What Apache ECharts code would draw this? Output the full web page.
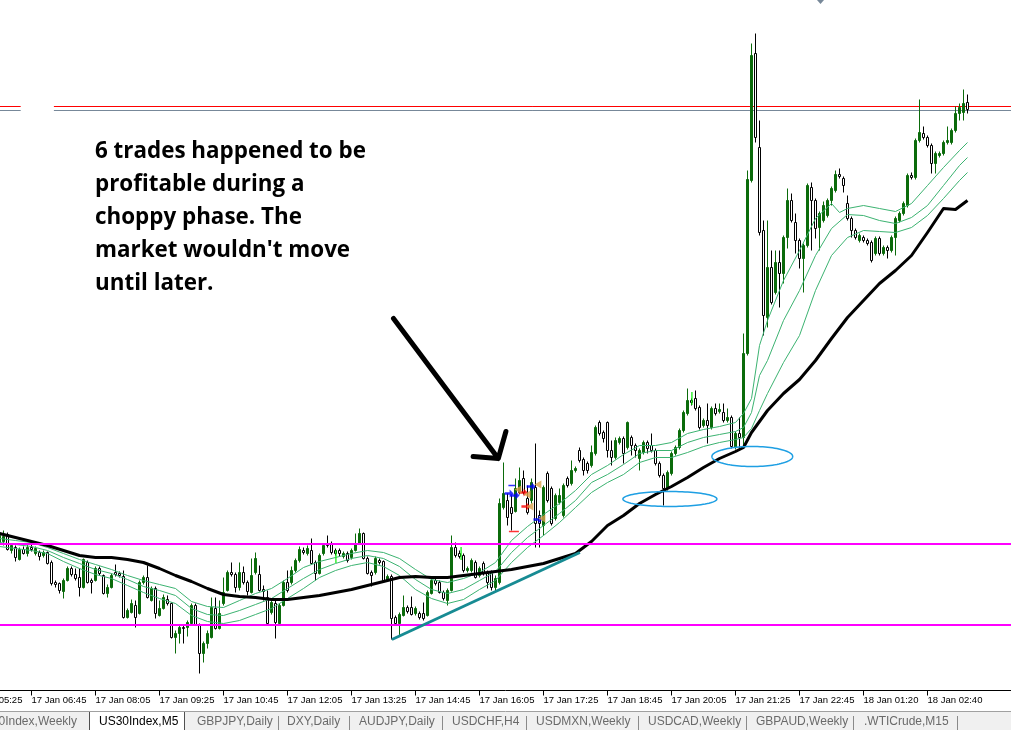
<!DOCTYPE html>
<html><head><meta charset="utf-8">
<script src="https://cdn.jsdelivr.net/npm/echarts@6/dist/echarts.min.js"></script>
<style>html,body{margin:0;padding:0;background:#fff;overflow:hidden}#c{width:1011px;height:730px}</style>
</head><body><div id="c"></div>
<script>
// ---------- DATA ----------
const FIRST_BAR = 8;          // category index of first candle in ohlc
const LAST_LABEL_BAR = 250;   // no time labels in the right-hand shift area
const N_CATS = 262;           // 5-minute slots incl. right-hand shift
// [open, close, low, high]
const ohlc = [
[23847,23855,23845,23857],[23849,23854,23845,23860],[23856,23841,23840,23858],[23840,23845,23837,23847],[23843,23833,23829,23845],[23831,23841,23830,23843],[23841,23837,23836,23844],[23837,23843,23834,23846],[23843,23841,23839,23847],[23837,23842,23835,23844],
[23838,23834,23830,23840],[23835,23838,23833,23840],[23838,23827,23826,23839],[23828,23807,23805,23830],[23808,23806,23803,23810],[23807,23800,23797,23808],[23799,23810,23792,23812],[23810,23822,23809,23824],[23822,23816,23814,23824],[23816,23812,23810,23822],
[23813,23803,23794,23822],[23803,23831,23802,23832],[23828,23808,23807,23830],[23810,23808,23797,23812],[23810,23822,23809,23824],[23822,23817,23815,23824],[23815,23797,23796,23816],[23797,23803,23793,23806],[23803,23815,23802,23817],[23818,23816,23814,23826],
[23817,23815,23813,23819],[23814,23773,23772,23820],[23773,23780,23772,23782],[23778,23787,23777,23791],[23785,23773,23763,23790],[23777,23808,23776,23810],[23808,23813,23806,23815],[23813,23793,23792,23825],[23790,23802,23789,23804],[23802,23777,23772,23804],
[23775,23782,23774,23790],[23782,23793,23781,23796],[23791,23787,23785,23795],[23787,23753,23752,23788],[23753,23757,23737,23760],[23757,23763,23747,23765],[23763,23762,23747,23765],[23763,23768,23754,23770],[23767,23785,23766,23787],[23785,23766,23765,23787],
[23765,23737,23717,23767],[23737,23747,23728,23749],[23747,23757,23742,23760],[23753,23783,23752,23793],[23782,23762,23761,23793],[23762,23777,23761,23790],[23787,23798,23785,23813],[23800,23818,23799,23820],[23818,23816,23814,23828],[23816,23803,23798,23818],
[23803,23818,23800,23828],[23818,23808,23806,23824],[23808,23799,23795,23810],[23798,23815,23797,23832],[23818,23832,23816,23838],[23816,23800,23799,23825],[23801,23799,23790,23805],[23793,23767,23766,23800],[23778,23788,23776,23790],[23787,23768,23752,23790],
[23767,23785,23766,23787],[23785,23808,23784,23810],[23808,23800,23798,23820],[23808,23820,23806,23824],[23820,23830,23818,23832],[23830,23841,23828,23844],[23840,23838,23836,23843],[23837,23842,23835,23845],[23840,23827,23826,23852],[23828,23817,23810,23830],
[23817,23835,23816,23837],[23837,23845,23835,23847],[23847,23845,23843,23855],[23847,23838,23836,23849],[23840,23837,23835,23842],[23840,23837,23834,23842],[23834,23837,23832,23839],[23837,23830,23828,23839],[23833,23840,23831,23842],[23840,23847,23839,23857],
[23847,23857,23846,23862],[23857,23832,23831,23858],[23832,23817,23816,23834],[23818,23815,23804,23820],[23818,23832,23816,23834],[23830,23828,23826,23832],[23829,23810,23809,23830],[23810,23814,23809,23816],[23814,23772,23751,23816],[23773,23767,23765,23775],
[23767,23776,23755,23778],[23775,23783,23774,23795],[23783,23779,23777,23785],[23783,23776,23775,23794],[23777,23782,23775,23784],[23777,23773,23771,23779],[23777,23772,23770,23788],[23775,23798,23774,23800],[23797,23810,23796,23812],[23810,23807,23805,23812],
[23808,23798,23797,23810],[23798,23792,23790,23800],[23790,23800,23785,23802],[23800,23843,23799,23855],[23843,23835,23833,23848],[23837,23834,23832,23840],[23835,23820,23818,23837],[23820,23822,23818,23824],[23820,23830,23818,23832],[23828,23813,23812,23830],
[23815,23822,23813,23824],[23827,23817,23815,23829],[23818,23808,23802,23820],[23818,23803,23800,23820],[23803,23812,23798,23815],[23808,23887,23806,23892],[23883,23897,23881,23928],[23890,23873,23865,23897],[23883,23877,23860,23895],[23879,23902,23878,23912],
[23898,23910,23896,23923],[23912,23898,23896,23920],[23892,23878,23876,23905],[23890,23908,23887,23912],[23903,23867,23843,23947],[23875,23867,23843,23880],[23865,23903,23855,23905],[23917,23890,23888,23919],[23902,23867,23865,23904],[23872,23895,23870,23897],
[23888,23895,23886,23902],[23875,23905,23873,23907],[23912,23905,23903,23914],[23907,23920,23905,23930],[23920,23922,23918,23924],[23940,23930,23928,23943],[23931,23920,23915,23933],[23927,23920,23917,23929],[23925,23938,23923,23945],[23937,23963,23935,23965],
[23968,23957,23955,23970],[23958,23952,23948,23960],[23968,23940,23933,23969],[23940,23933,23925,23950],[23933,23950,23931,23953],[23948,23952,23946,23954],[23952,23937,23927,23954],[23943,23968,23941,23969],[23953,23945,23935,23955],[23945,23940,23933,23947],
[23932,23940,23920,23942],[23938,23948,23936,23950],[23948,23942,23937,23950],[23945,23940,23938,23957],[23940,23927,23925,23942],[23927,23915,23913,23929],[23915,23902,23885,23917],[23902,23918,23900,23920],[23917,23937,23915,23939],[23937,23943,23935,23945],
[23943,23960,23941,23962],[23960,23978,23958,23980],[23977,23990,23975,24002],[23990,23988,23985,23992],[23992,23982,23980,24000],[23983,23963,23961,23985],[23965,23970,23963,23972],[23970,23965,23947,23987],[23963,23982,23961,23984],[23982,23977,23975,23987],
[23979,23981,23977,23987],[23978,23970,23968,23987],[23970,23973,23968,23982],[23973,23944,23942,23975],[23943,23957,23941,23959],[23957,23953,23942,23973],[23953,24037,23945,24057],[24037,24211,24035,24220],[24210,24335,24208,24347],[24337,24253,24248,24357],
[24243,24158,24155,24270],[24160,24075,24055,24170],[24073,24123,24063,24170],[24123,24088,24086,24140],[24098,24128,24096,24140],[24128,24117,24083,24140],[24117,24153,24107,24155],[24153,24190,24142,24202],[24190,24170,24168,24197],[24168,24150,24137,24177],
[24150,24132,24122,24152],[24132,24145,24098,24147],[24145,24205,24143,24207],[24203,24190,24140,24208],[24190,24162,24152,24192],[24163,24177,24140,24179],[24170,24185,24168,24189],[24175,24190,24173,24192],[24190,24202,24185,24204],[24200,24216,24198,24220],
[24216,24214,24212,24222],[24212,24205,24198,24214],[24187,24172,24170,24195],[24172,24160,24153,24174],[24160,24153,24151,24162],[24150,24155,24148,24157],[24153,24150,24148,24155],[24150,24147,24145,24152],[24148,24130,24128,24150],[24137,24152,24135,24154],
[24152,24137,24135,24154],[24137,24143,24135,24145],[24143,24140,24132,24145],[24140,24153,24138,24155],[24153,24172,24135,24174],[24170,24177,24168,24179],[24177,24187,24175,24189],[24185,24215,24183,24217],[24215,24213,24211,24218],[24213,24250,24211,24252],
[24250,24258,24248,24291],[24257,24253,24251,24264],[24253,24245,24243,24255],[24245,24227,24217,24247],[24227,24237,24217,24239],[24235,24237,24233,24239],[24237,24248,24235,24250],[24248,24250,24246,24264],[24248,24260,24246,24262],[24260,24277,24258,24284],
[24277,24283,24270,24287],[24278,24287,24270,24301],[24288,24281,24277,24296]
];

// moving averages: [category index, price]
const maSlow = [[8,23857],[12,23853],[16,23849],[20,23845],[24,23840],[28,23835],[32,23833],[36,23833],[40,23831],[44,23828],[48,23822],[52,23815],[56,23809],[60,23802],[64,23796],[68,23794],[72,23793],[76,23791],[80,23791],[84,23793],[88,23795],[92,23798],[96,23801],[100,23805],[104,23809],[108,23813],[112,23814],[116,23813],[120,23813],[124,23815],[128,23817],[132,23819],[136,23821],[140,23824],[144,23827],[148,23832],[152,23837],[156,23849],[160,23865],[164,23875],[168,23887],[172,23896],[176,23904],[180,23913],[184,23923],[188,23932],[192,23939],[194,23943],[196,23958],[200,23980],[204,23997],[208,24011],[212,24030],[216,24052],[220,24073],[224,24090],[228,24107],[232,24120],[236,24135],[240,24158],[244,24182],[247,24181],[250,24190]];
const maUpper = [[8,23852],[12,23850],[16,23848],[20,23843],[24,23837],[28,23831],[32,23826],[36,23821],[40,23815],[44,23810],[48,23806],[52,23802],[56,23789],[60,23784],[64,23783],[68,23790],[72,23797],[76,23802],[80,23812],[84,23823],[88,23829],[92,23833],[96,23837],[100,23840],[104,23838],[108,23832],[112,23821],[116,23811],[120,23808],[124,23812],[128,23818],[132,23828],[136,23850],[140,23864],[144,23876],[148,23887],[152,23900],[156,23916],[160,23925],[164,23936],[168,23945],[172,23945],[176,23948],[180,23957],[184,23961],[188,23964],[192,23968],[194,23977],[196,23992],[198,24045],[200,24070],[204,24110],[208,24140],[212,24172],[216,24187],[218,24178],[220,24182],[224,24185],[228,24182],[232,24179],[236,24187],[240,24205],[244,24223],[248,24240],[250,24248]];
const maMiddle = [[8,23848],[12,23846],[16,23844],[20,23840],[24,23833],[28,23827],[32,23821],[36,23817],[40,23811],[44,23804],[48,23800],[52,23795],[56,23782],[60,23776],[64,23775],[68,23780],[72,23786],[76,23792],[80,23802],[84,23812],[88,23821],[92,23827],[96,23832],[100,23835],[104,23832],[108,23824],[112,23811],[116,23801],[120,23797],[124,23801],[128,23810],[132,23819],[136,23838],[140,23853],[144,23865],[148,23877],[152,23890],[156,23908],[160,23916],[164,23926],[168,23937],[172,23940],[176,23940],[180,23948],[184,23953],[188,23956],[192,23959],[194,23963],[196,23978],[198,24015],[200,24030],[204,24070],[208,24100],[212,24135],[216,24162],[220,24176],[224,24175],[228,24170],[232,24167],[236,24173],[240,24185],[244,24205],[248,24225],[250,24233]];
const maLower = [[8,23844],[12,23842],[16,23840],[20,23837],[24,23829],[28,23822],[32,23816],[36,23812],[40,23805],[44,23798],[48,23792],[52,23787],[56,23775],[60,23769],[64,23767],[68,23770],[72,23776],[76,23782],[80,23792],[84,23802],[88,23813],[92,23820],[96,23825],[100,23828],[104,23824],[108,23815],[112,23801],[116,23792],[120,23787],[124,23791],[128,23801],[132,23810],[136,23828],[140,23843],[144,23855],[148,23868],[152,23883],[156,23898],[160,23908],[164,23916],[168,23928],[172,23933],[176,23933],[180,23938],[184,23944],[188,23948],[192,23951],[194,23953],[196,23962],[198,23980],[200,23997],[204,24028],[208,24055],[212,24100],[216,24135],[220,24153],[224,24160],[228,24159],[232,24158],[236,24163],[240,24175],[244,24192],[248,24210],[250,24218]];

// horizontal levels
const magentaLevels = [23847, 23766];
const redLevel = 24284;
const greyLevel = 24280;
const levelGap = [13.3, 21.6];           // index range where the two upper levels are hidden

// drawn objects in data space ([index, price])
const trendLine = [[106.1, 23751], [153.1, 23838]];
const arrowShaft = [[106.5, 24072], [132.7, 23932]];
const arrowHead = [[126.4, 23934], [132.7, 23932], [134.6, 23959]];
const ellipses = [[175.6, 23891.5, 11.75, 7.5], [196.2, 23934, 10.1, 10]];   // centre idx, centre price, half-width (idx), half-height (price)

// trade history markers
const buyArrows = [[135.4, 23897], [136.9, 23895], [140.9, 23904], [142.6, 23871]];
const sellArrows = [[138.9, 23898], [139.6, 23884]];
const closeMarks = [[137.6, 23901], [139.9, 23896], [142.6, 23906], [140.6, 23884], [143.6, 23872]];
const stopDash = [[136.6, 23859]];
const takeDash = [[136.1, 23905]];
const limeMarks = [[92.1, 23834], [123.4, 23837], [181.1, 23992]];

const annotationLines = ["6 trades happened to be", "profitable during a", "choppy phase. The", "market wouldn't move", "until later."];
const tabLabels = ['US30Index,Weekly', 'US30Index,M5', 'GBPJPY,Daily', 'DXY,Daily', 'AUDJPY,Daily', 'USDCHF,H4', 'USDMXN,Weekly', 'USDCAD,Weekly', 'GBPAUD,Weekly', '.WTICrude,M15'];
const ACTIVE_TAB = 1;

// ---------- time categories (5-minute bars, session break after 23:55) ----------
const categories = [];
(function () {
  let t = Date.UTC(2019, 0, 17, 5, 25);
  const pad = n => (n < 10 ? '0' : '') + n;
  for (let i = 0; i < N_CATS; i++) {
    const d = new Date(t);
    categories.push(d.getUTCDate() + ' Jan ' + pad(d.getUTCHours()) + ':' + pad(d.getUTCMinutes()));
    t += 300000;
    if (i === 222) t = Date.UTC(2019, 0, 18, 1, 15);
  }
})();

const candleData = categories.map((_, i) => {
  const k = i - FIRST_BAR;
  return (k >= 0 && k < ohlc.length) ? ohlc[k] : '-';
});

// ---------- layout ----------
const tabTextX = [77, 99, 197, 287, 359, 452, 536, 648, 756, 864];
const tabSeparators = [278, 349, 442, 526, 638, 746, 853, 957];
const activeTabEdges = [89, 184];
const showTime = idx => idx % 16 === 0 && idx <= LAST_LABEL_BAR;

const chart = echarts.init(document.getElementById('c'), null, {renderer: 'canvas'});

const arrowPath = 'path://M0,3 L5,3 L5,0 L9,4.5 L5,9 L5,6 L0,6 Z';
const triLeft = 'path://M0,4 L7,0 L7,8 Z';
const maLine = (name, data, color, width, z) => ({type: 'line', name, data, smooth: false, symbol: 'none', silent: true, lineStyle: {color, width, join: 'round'}, z});

const option = {
  animation: false,
  backgroundColor: '#ffffff',
  grid: {left: -34.5, top: 0.5, width: 1048, height: 690, containLabel: false, outerBoundsMode: 'none'},
  xAxis: [
    {
      type: 'category', data: categories, boundaryGap: true,
      axisLine: {show: true, lineStyle: {color: '#000', width: 1}},
      axisTick: {show: true, interval: showTime, alignWithLabel: true, length: 5, lineStyle: {color: '#000'}},
      axisLabel: {interval: showTime, align: 'left', margin: 5, color: '#000', fontSize: 9.5, fontFamily: 'Liberation Sans', hideOverlap: false},
      splitLine: {show: false}
    },
    {type: 'value', min: -0.5, max: N_CATS - 0.5, show: false}
  ],
  yAxis: {type: 'value', min: 23700, max: 24390, show: false, splitLine: {show: false}},
  series: [
    {
      type: 'candlestick', name: 'US30Index,M5', data: candleData, barWidth: 2, z: 2,
      itemStyle: {color: '#0b6b0b', color0: '#ffffff', borderColor: '#0b6b0b', borderColor0: '#000000', borderWidth: 1},
      markLine: {
        silent: true, symbol: ['none', 'none'], label: {show: false},
        lineStyle: {color: '#ff00ff', width: 2, type: 'solid'},
        data: magentaLevels.map(v => ({yAxis: v}))
      }
    },
    {type: 'line', xAxisIndex: 1, data: [[-0.5, redLevel], [levelGap[0], redLevel], ['-', '-'], [levelGap[1], redLevel], [N_CATS - 0.5, redLevel]], symbol: 'none', silent: true, lineStyle: {color: '#ff0000', width: 1}, z: 1},
    {type: 'line', xAxisIndex: 1, data: [[-0.5, greyLevel], [levelGap[0], greyLevel], ['-', '-'], [levelGap[1], greyLevel], [N_CATS - 0.5, greyLevel]], symbol: 'none', silent: true, lineStyle: {color: '#778899', width: 1}, z: 1},
    maLine('upper', maUpper, '#3cb371', 1, 3),
    maLine('middle', maMiddle, '#3cb371', 1, 3),
    maLine('lower', maLower, '#3cb371', 1, 3),
    maLine('slow', maSlow, '#000000', 3, 4),
    {type: 'line', xAxisIndex: 1, data: trendLine, symbol: 'none', silent: true, lineStyle: {color: '#178b93', width: 3}, z: 5},
    {type: 'line', xAxisIndex: 1, data: arrowShaft.concat([['-', '-']], arrowHead), symbol: 'none', silent: true, lineStyle: {color: '#000', width: 5, cap: 'round', join: 'round'}, z: 6},
    {type: 'scatter', xAxisIndex: 1, data: buyArrows, symbol: arrowPath, symbolSize: [9, 8], itemStyle: {color: '#0000ff'}, silent: true, z: 7},
    {type: 'scatter', xAxisIndex: 1, data: sellArrows, symbol: arrowPath, symbolSize: [9, 8], itemStyle: {color: '#ff0000'}, silent: true, z: 7},
    {type: 'scatter', xAxisIndex: 1, data: closeMarks, symbol: triLeft, symbolSize: [7, 8], itemStyle: {color: '#d9a04a'}, silent: true, z: 7},
    {type: 'scatter', xAxisIndex: 1, data: stopDash, symbol: 'rect', symbolSize: [10, 1.5], itemStyle: {color: '#ff0000'}, silent: true, z: 7},
    {type: 'scatter', xAxisIndex: 1, data: takeDash, symbol: 'rect', symbolSize: [7, 1.5], itemStyle: {color: '#0000ff'}, silent: true, z: 7},
    {type: 'scatter', xAxisIndex: 1, data: limeMarks, symbol: 'rect', symbolSize: [1.5, 13], itemStyle: {color: '#00ee00'}, silent: true, z: 7}
  ]
};
chart.setOption(option);

// ---------- graphics (annotation text, ellipses, tab bar) ----------
const px = v => chart.convertToPixel({xAxisIndex: 1}, v);
const py = p => chart.convertToPixel({yAxisIndex: 0}, p);
const g = [];
ellipses.forEach(e => {
  const cx = px(e[0]), cy = py(e[1]);
  const rx = px(e[0] + e[2]) - cx, ry = cy - py(e[1] + e[3]);
  const pts = [];
  for (let k = 0; k < 96; k++) { const a = k / 96 * Math.PI * 2; pts.push([cx + rx * Math.cos(a), cy + ry * Math.sin(a)]); }
  g.push({type: 'polygon', shape: {points: pts}, style: {fill: 'none', stroke: '#1e9fe3', lineWidth: 1.5}, z: 50, silent: true});
});
g.push({type: 'text', x: 95, y: 135, z: 100, silent: true,
  style: {text: annotationLines.join('\n'), font: 'bold 22.4px "Open Sans"', fill: '#000', lineHeight: 33}});
// MT4 shift marker at the top
g.push({type: 'polygon', shape: {points: [[817, 0], [824, 0], [820.5, 4]]}, style: {fill: '#778899'}, z: 50, silent: true});
// tab bar
g.push({type: 'rect', shape: {x: 0, y: 712, width: 1011, height: 18}, style: {fill: '#f0f0f0'}, z: 60, silent: true});
g.push({type: 'line', shape: {x1: 0, y1: 711.5, x2: 1011, y2: 711.5}, style: {stroke: '#a0a0a0', lineWidth: 1}, z: 61, silent: true});
g.push({type: 'rect', shape: {x: activeTabEdges[0], y: 712, width: activeTabEdges[1] - activeTabEdges[0], height: 18}, style: {fill: '#ffffff'}, z: 61, silent: true});
activeTabEdges.forEach(x => g.push({type: 'line', shape: {x1: x + 0.5, y1: 712, x2: x + 0.5, y2: 730}, style: {stroke: '#505050', lineWidth: 1}, z: 62, silent: true}));
tabSeparators.forEach(x => g.push({type: 'line', shape: {x1: x + 0.5, y1: 716, x2: x + 0.5, y2: 730}, style: {stroke: '#8a8a8a', lineWidth: 1}, z: 62, silent: true}));
tabLabels.forEach((t, k) => g.push({type: 'text', x: tabTextX[k], y: 722, z: 63, silent: true,
  style: {text: t, font: '12px "Liberation Sans"', fill: k === ACTIVE_TAB ? '#000' : '#6a6a6a', align: k === 0 ? 'right' : 'left', verticalAlign: 'middle'}}));
chart.setOption({graphic: g});
</script>
</body></html>
